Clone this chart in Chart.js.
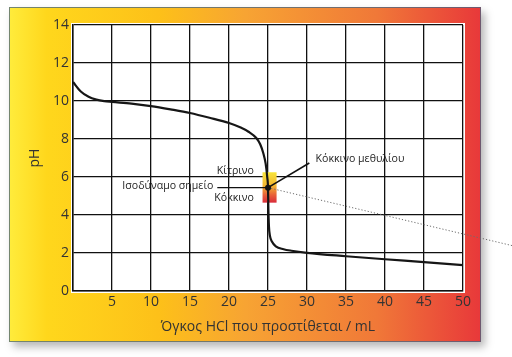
<!DOCTYPE html>
<html>
<head>
<meta charset="utf-8">
<script src="https://cdn.jsdelivr.net/npm/chart.js@4/dist/chart.umd.min.js"></script>
<style>
html,body{margin:0;padding:0;background:#fff;}
#wrap{width:512px;height:357px;position:relative;}
</style>
</head>
<body>
<div id="wrap"><canvas id="c" width="512" height="357"></canvas></div>
<script>
// ---- data ----
const volumeHCl = [0, 1, 2, 3, 4, 5, 7.5, 10, 12.5, 15, 17.5, 20, 21.5, 22.5, 23.5, 24, 24.4, 24.7, 24.9, 25.0, 25.05, 25.12, 25.25, 25.5, 26, 27, 28, 30, 35, 40, 45, 50];
const pHValues  = [11.0, 10.5, 10.22, 10.07, 9.99, 9.95, 9.86, 9.73, 9.56, 9.37, 9.12, 8.84, 8.6, 8.38, 8.05, 7.72, 7.25, 6.7, 6.0, 5.44, 4.3, 3.4, 2.9, 2.6, 2.35, 2.2, 2.12, 2.01, 1.83, 1.67, 1.52, 1.36];

const xTickValues = [0, 5, 10, 15, 20, 25, 30, 35, 40, 45, 50];
const yTickValues = [0, 2, 4, 6, 8, 10, 12, 14];

const xTitle = "Όγκος HCl που προστίθεται / mL";
const yTitle = "pH";

// annotations (data coordinates)
const equivalencePoint = [25, 5.44];
const indicatorX = [24.3, 26.1];
const indicatorPH = [4.65, 6.25];
const indicatorName = "Κόκκινο μεθυλίου";
const indicatorNameAt = [31.1, 6.96];
const indicatorLeaderEnd = [30.3, 6.74];
const equivLabel = "Ισοδύναμο σημείο";
const equivLabelAt = [18.0, 5.52];
const equivLineStart = [18.5, 5.44];
const yellowLabel = "Κίτρινο";
const yellowLabelAt = [23.2, 6.33];
const redLabel = "Κόκκινο";
const redLabelAt = [23.2, 4.88];
const dottedEnd = [56.5, 2.37];

const FONT = "'Open Sans', 'Noto Sans', sans-serif";

const decor = {
  id: 'decor',
  beforeDraw(chart) {
    const ctx = chart.ctx;
    ctx.save();
    ctx.shadowColor = 'rgba(0,0,0,0.28)';
    ctx.shadowBlur = 8;
    ctx.shadowOffsetX = 4;
    ctx.shadowOffsetY = 5;
    const fx = 9, fy = 7, fw = 472, fh = 335;
    const g = ctx.createLinearGradient(fx, 0, fx + fw, 0);
    g.addColorStop(0, '#FFEC3C');
    g.addColorStop(0.08, '#FFD71C');
    g.addColorStop(0.32, '#FDC019');
    g.addColorStop(0.5, '#F7A433');
    g.addColorStop(0.78, '#F07838');
    g.addColorStop(1, '#E8383A');
    ctx.fillStyle = g;
    ctx.fillRect(fx, fy, fw, fh);
    ctx.restore();
    ctx.save();
    ctx.strokeStyle = 'rgba(70,100,130,0.75)';
    ctx.lineWidth = 1;
    ctx.strokeRect(fx + 0.5, fy + 0.5, fw - 1, fh - 1);
    const a = chart.chartArea;
    ctx.fillStyle = '#fff';
    ctx.fillRect(a.left - 2, a.top - 2, a.right - a.left + 4, a.bottom - a.top + 4);
    ctx.restore();
  },
  beforeDatasetsDraw(chart) {
    const ctx = chart.ctx;
    const xs = chart.scales.x, ys = chart.scales.y;
    const px = v => xs.getPixelForValue(v), py = v => ys.getPixelForValue(v);
    ctx.save();
    const x0 = px(indicatorX[0]), x1 = px(indicatorX[1]);
    const y0 = py(indicatorPH[1]), y1 = py(indicatorPH[0]);
    const g = ctx.createLinearGradient(0, y0, 0, y1);
    g.addColorStop(0, '#F8E63A');
    g.addColorStop(0.45, '#F2B432');
    g.addColorStop(0.75, '#E8603A');
    g.addColorStop(1, '#D92B3A');
    ctx.fillStyle = g;
    ctx.fillRect(x0, y0, x1 - x0, y1 - y0);
    ctx.restore();
  },
  afterDatasetsDraw(chart) {
    const ctx = chart.ctx;
    const xs = chart.scales.x, ys = chart.scales.y;
    const px = v => xs.getPixelForValue(v), py = v => ys.getPixelForValue(v);
    const ex = px(equivalencePoint[0]), ey = py(equivalencePoint[1]);
    ctx.save();
    ctx.strokeStyle = '#6d6d6d';
    ctx.lineWidth = 1;
    ctx.setLineDash([1.2, 2]);
    ctx.beginPath();
    ctx.moveTo(ex, ey);
    ctx.lineTo(px(dottedEnd[0]), py(dottedEnd[1]));
    ctx.stroke();
    ctx.setLineDash([]);
    ctx.strokeStyle = '#111';
    ctx.lineWidth = 1.3;
    ctx.beginPath();
    ctx.moveTo(px(equivLineStart[0]), py(equivLineStart[1]));
    ctx.lineTo(ex, ey);
    ctx.stroke();
    ctx.lineWidth = 1.6;
    ctx.beginPath();
    ctx.moveTo(ex, ey);
    ctx.lineTo(px(indicatorLeaderEnd[0]), py(indicatorLeaderEnd[1]));
    ctx.stroke();
    ctx.fillStyle = '#111';
    ctx.beginPath();
    ctx.arc(ex, ey, 3, 0, Math.PI * 2);
    ctx.fill();
    ctx.fillStyle = '#1e1e1e';
    ctx.font = "10.6px " + FONT;
    ctx.textBaseline = 'middle';
    ctx.textAlign = 'left';
    ctx.fillText(indicatorName, px(indicatorNameAt[0]), py(indicatorNameAt[1]));
    ctx.textAlign = 'right';
    ctx.fillText(equivLabel, px(equivLabelAt[0]), py(equivLabelAt[1]));
    ctx.fillText(yellowLabel, px(yellowLabelAt[0]), py(yellowLabelAt[1]));
    ctx.fillText(redLabel, px(redLabelAt[0]), py(redLabelAt[1]));
    ctx.restore();
  }
};

const points = volumeHCl.map((v, i) => ({x: v, y: pHValues[i]}));

new Chart(document.getElementById('c'), {
  type: 'scatter',
  data: {
    datasets: [{
      data: points,
      showLine: true,
      borderColor: '#161616',
      borderWidth: 2.2,
      pointRadius: 0,
      cubicInterpolationMode: 'monotone',
      fill: false
    }]
  },
  options: {
    responsive: false,
    animation: false,
    events: [],
    layout: { padding: { left: 23, top: 25, right: 49, bottom: 18 } },
    plugins: { legend: { display: false }, tooltip: { enabled: false } },
    scales: {
      x: {
        type: 'linear', min: 0, max: 50,
        afterBuildTicks: s => { s.ticks = xTickValues.map(v => ({value: v})); },
        afterFit: s => { s.height = 48; },
        ticks: {
          color: '#333', font: { family: FONT, size: 14 }, padding: 3,
          callback: v => v === 0 ? '' : String(v)
        },
        grid: { color: '#111', lineWidth: 1.3, drawTicks: false },
        border: { color: '#111', width: 1.5 },
        title: { display: true, text: xTitle, color: '#333', font: { family: FONT, size: 14 }, padding: { top: 4, bottom: 4 } }
      },
      y: {
        type: 'linear', min: 0, max: 14,
        afterBuildTicks: s => { s.ticks = yTickValues.map(v => ({value: v})); },
        afterFit: s => { s.width = 50; },
        ticks: { color: '#333', font: { family: FONT, size: 14 }, padding: 4 },
        grid: { color: '#111', lineWidth: 1.3, drawTicks: false },
        border: { color: '#111', width: 1.5 },
        title: { display: true, text: yTitle, color: '#333', font: { family: FONT, size: 14 }, padding: { top: 4, bottom: 4 } }
      }
    }
  },
  plugins: [decor]
});
</script>
</body>
</html>
